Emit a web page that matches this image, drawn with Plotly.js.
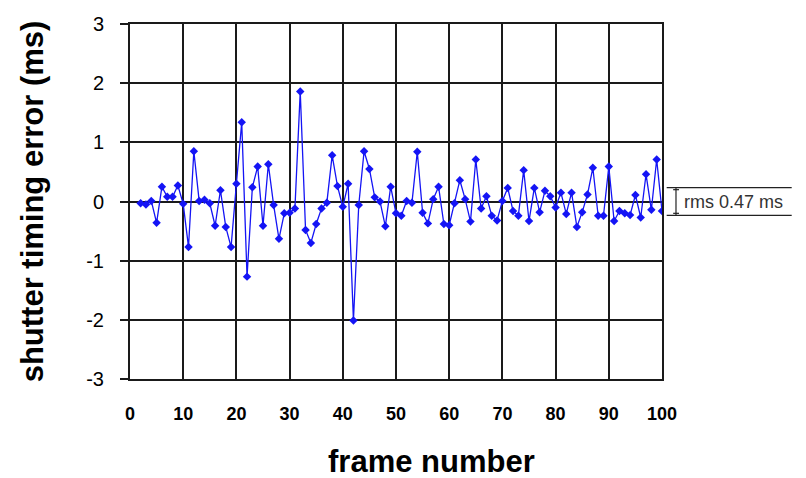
<!DOCTYPE html>
<html>
<head>
<meta charset="utf-8">
<script src="https://cdn.plot.ly/plotly-3.0.1.min.js"></script>
<style>html,body{margin:0;padding:0;background:#fff;}#chart{width:806px;height:478px;}</style>
</head>
<body>
<div id="chart"></div>
<script>
const frames = [2,3,4,5,6,7,8,9,10,11,12,13,14,15,16,17,18,19,20,21,22,23,24,25,26,27,28,29,30,31,32,33,34,35,36,37,38,39,40,41,42,43,44,45,46,47,48,49,50,51,52,53,54,55,56,57,58,59,60,61,62,63,64,65,66,67,68,69,70,71,72,73,74,75,76,77,78,79,80,81,82,83,84,85,86,87,88,89,90,91,92,93,94,95,96,97,98,99,100];
const timingError = [-0.03,-0.05,0.01,-0.36,0.25,0.08,0.08,0.27,-0.04,-0.77,0.85,0.01,0.03,-0.03,-0.41,0.19,-0.43,-0.77,0.30,1.34,-1.27,0.24,0.59,-0.41,0.63,-0.06,-0.63,-0.20,-0.19,-0.12,1.86,-0.48,-0.70,-0.38,-0.12,-0.02,0.78,0.26,-0.09,0.30,-2.01,-0.06,0.85,0.55,0.07,0.00,-0.42,0.25,-0.20,-0.24,0.01,-0.02,0.84,-0.19,-0.37,0.04,0.25,-0.38,-0.40,-0.03,0.36,0.04,-0.34,0.71,-0.12,0.09,-0.24,-0.32,0.01,0.23,-0.16,-0.24,0.53,-0.33,0.23,-0.18,0.18,0.09,-0.10,0.15,-0.21,0.15,-0.43,-0.18,0.12,0.57,-0.24,-0.24,0.59,-0.33,-0.16,-0.20,-0.23,0.11,-0.27,0.46,-0.14,0.71,-0.16];
const xTicks = [0,10,20,30,40,50,60,70,80,90,100];
const yTicks = [-3,-2,-1,0,1,2,3];
const rmsValue = 0.47;
const rmsLabel = 'rms 0.47 ms';
const xTitle = 'frame number';
const yTitle = 'shutter timing error (ms)';

const half = rmsValue / 2;
const ink = '#1a1a1a';
const trace = {
  x: frames, y: timingError, type: 'scatter', mode: 'lines+markers',
  line: {color: 'rgb(20,20,245)', width: 1.3},
  marker: {symbol: 'diamond', size: 6.5, color: 'rgb(20,20,245)'},
  hoverinfo: 'x+y'
};
const layout = {
  width: 806, height: 478,
  margin: {l: 130, r: 144, t: 24, b: 99},
  paper_bgcolor: '#fff', plot_bgcolor: '#fff',
  showlegend: false,
  font: {family: 'Liberation Sans, Arial, sans-serif', color: '#000'},
  xaxis: {
    range: [0, 100], tickvals: xTicks, ticktext: xTicks.map(String),
    showgrid: true, gridcolor: ink, gridwidth: 2,
    showline: true, linecolor: ink, linewidth: 2, mirror: true,
    zeroline: false, ticks: '', ticklabelstandoff: 17,
    tickfont: {size: 18, family: 'Liberation Sans, Arial, sans-serif', weight: 'bold'}
  },
  yaxis: {
    range: [-3, 3], tickvals: yTicks, ticktext: yTicks.map(String),
    showgrid: true, gridcolor: ink, gridwidth: 2,
    showline: true, linecolor: ink, linewidth: 2, mirror: true,
    zeroline: false, ticks: 'outside', ticklen: 8, tickwidth: 2, tickcolor: ink,
    ticklabelstandoff: 12,
    tickfont: {size: 20},
    title: {text: '<b>' + yTitle + '</b>', font: {size: 31}, standoff: 33}
  },
  shapes: [
    {type: 'line', xref: 'paper', yref: 'y', x0: 1.0088, x1: 1.2438, y0: half, y1: half, line: {color: '#222', width: 1.2}},
    {type: 'line', xref: 'paper', yref: 'y', x0: 1.0088, x1: 1.2438, y0: -half, y1: -half, line: {color: '#222', width: 1.2}},
    {type: 'line', xref: 'paper', yref: 'y', x0: 1.0263, x1: 1.0263, y0: -half, y1: half, line: {color: '#222', width: 1.2}},
    {type: 'line', xref: 'paper', yref: 'y', x0: 1.021, x1: 1.032, y0: half * 0.85, y1: half * 0.85, line: {color: '#222', width: 1.2}},
    {type: 'line', xref: 'paper', yref: 'y', x0: 1.021, x1: 1.032, y0: -half * 0.85, y1: -half * 0.85, line: {color: '#222', width: 1.2}}
  ],
  annotations: [
    {xref: 'paper', yref: 'y', x: 1.037, y: 0, xanchor: 'left', yanchor: 'middle', text: rmsLabel, showarrow: false,
     font: {size: 18, color: '#333'}},
    {xref: 'paper', yref: 'paper', x: 0.566, y: -0.232, xanchor: 'center', yanchor: 'middle', text: '<b>' + xTitle + '</b>', showarrow: false,
     font: {size: 31, color: '#000'}}
  ]
};
Plotly.newPlot('chart', [trace], layout, {displayModeBar: false, staticPlot: true});
</script>
</body>
</html>
